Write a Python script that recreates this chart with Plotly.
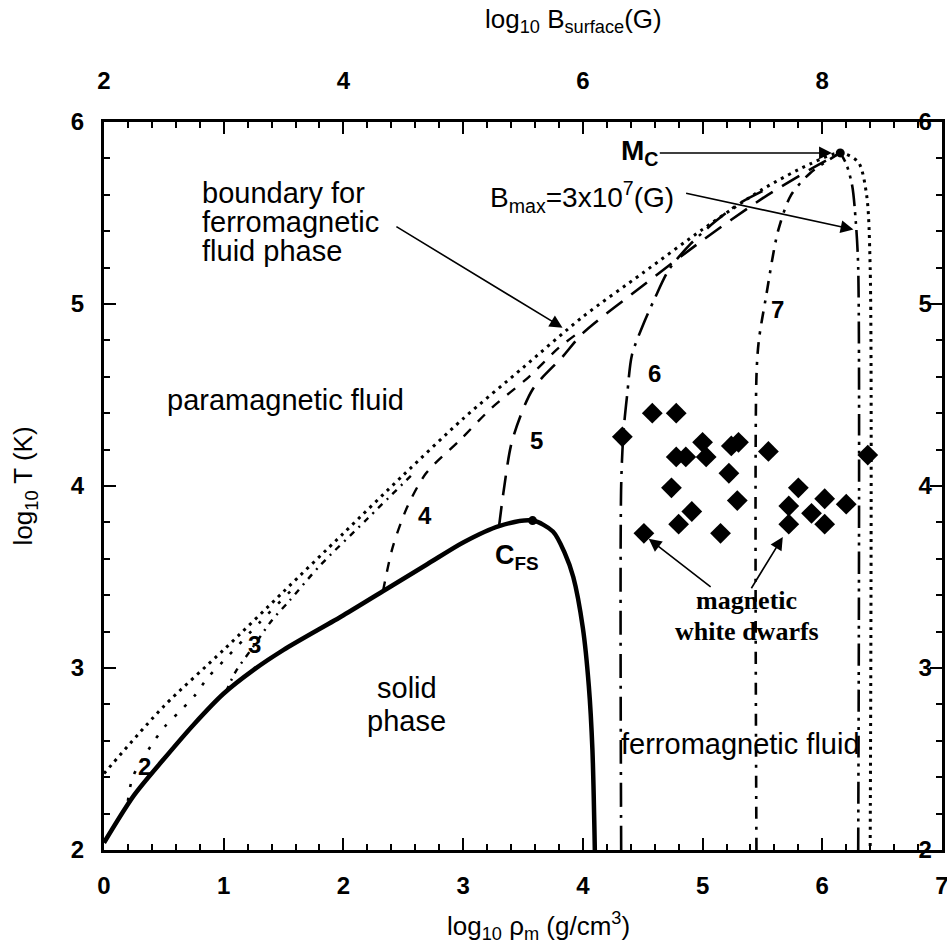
import plotly.graph_objects as go

# ---------------- data ----------------
# solid / fluid phase boundary (solid line)
solid_x = [0.0, 0.25, 0.5, 0.75, 1.0, 1.25, 1.5, 2.0, 2.35, 2.7, 3.0, 3.3, 3.58, 3.75, 3.85, 3.92, 4.0, 4.05, 4.08, 4.1]
solid_y = [2.04, 2.3, 2.5, 2.69, 2.86, 2.99, 3.1, 3.29, 3.43, 3.57, 3.69, 3.78, 3.81, 3.75, 3.63, 3.5, 3.22, 2.9, 2.55, 2.0]

# boundary for ferromagnetic fluid phase (dotted)
bound_x = [0.0, 0.5, 1.0, 1.5, 2.0, 2.5, 3.0, 3.5, 4.0, 4.5, 5.0, 5.5, 5.9, 6.15, 6.3, 6.37, 6.4, 6.4]
bound_y = [2.42, 2.79, 3.1, 3.42, 3.74, 4.06, 4.37, 4.65, 4.93, 5.17, 5.41, 5.63, 5.77, 5.83, 5.78, 5.6, 5.2, 2.0]

# constant-B curves, labelled by log10 B_surface
c2_x = [0.2, 0.24, 0.4, 0.51, 0.63, 0.76, 0.87, 1.0, 1.3, 1.6]
c2_y = [2.27, 2.40, 2.58, 2.68, 2.76, 2.85, 2.95, 3.04, 3.25, 3.45]

c3_x = [1.02, 1.1, 1.25, 1.4, 1.55, 1.8, 2.2, 2.6]
c3_y = [2.87, 2.98, 3.12, 3.26, 3.37, 3.56, 3.82, 4.08]

c4_x = [2.33, 2.41, 2.53, 2.69, 2.97, 3.24, 3.55, 3.8, 4.0]
c4_y = [3.42, 3.66, 3.88, 4.07, 4.25, 4.43, 4.6, 4.76, 4.86]

c5_x = [3.3, 3.34, 3.41, 3.58, 3.83, 4.0, 4.5, 5.0, 5.5, 5.9, 6.15]
c5_y = [3.78, 3.98, 4.25, 4.53, 4.71, 4.84, 5.1, 5.35, 5.58, 5.74, 5.83]

c6_x = [4.32, 4.32, 4.34, 4.37, 4.41, 4.5, 4.6, 4.72, 4.9, 5.1, 5.3, 5.5]
c6_y = [2.0, 4.0, 4.3, 4.5, 4.72, 4.88, 5.03, 5.19, 5.33, 5.45, 5.55, 5.62]

c7_x = [5.45, 5.45, 5.47, 5.53, 5.63, 5.74, 5.9, 6.05, 6.15]
c7_y = [2.0, 4.6, 4.8, 5.04, 5.4, 5.6, 5.72, 5.79, 5.83]

bmax_x = [6.3, 6.3, 6.28, 6.25, 6.2, 6.15]
bmax_y = [2.0, 5.2, 5.45, 5.65, 5.77, 5.83]

# magnetic white dwarfs (diamonds)
wd_x = [4.33, 4.58, 4.78, 4.78, 4.86, 5.0, 5.03, 5.24, 5.3, 5.55, 5.22, 4.74, 5.29,
        4.91, 4.8, 4.51, 5.15, 5.8, 5.72, 5.72, 5.91, 6.02, 6.02, 6.2, 6.38]
wd_y = [4.27, 4.40, 4.40, 4.16, 4.16, 4.24, 4.16, 4.22, 4.24, 4.19, 4.07, 3.99, 3.92,
        3.86, 3.79, 3.74, 3.74, 3.99, 3.89, 3.79, 3.85, 3.93, 3.79, 3.90, 4.17]

# special points
cfs_x, cfs_y = [3.58], [3.81]
mc_x, mc_y = [6.15], [5.83]

# axis ticks
x_ticks = [0, 1, 2, 3, 4, 5, 6, 7]
y_ticks = [2, 3, 4, 5, 6]
top_ticks = [2, 3, 4, 5, 6, 7, 8, 9]
top_labels = ["2", "", "4", "", "6", "", "8", ""]

FONT = "Liberation Sans, Arial, Helvetica, sans-serif"
SERIF = "Liberation Serif, Times New Roman, serif"

fig = go.Figure()

def line(x, y, dash, width=2.6, shape="spline"):
    fig.add_trace(go.Scatter(x=x, y=y, mode="lines", showlegend=False, hoverinfo="skip",
                             line=dict(color="black", width=width, dash=dash,
                                       shape=shape, smoothing=0.8)))

line(bound_x, bound_y, "3px,5px", 3)
line(c2_x, c2_y, "3px,11px", 2.6)
line(c3_x, c3_y, "6px,6px,2px,6px", 2.4)
line(c4_x, c4_y, "10px,10px", 2.4)
line(c5_x, c5_y, "20px,11px", 2.6)
line(c6_x, c6_y, "24px,8px,3px,8px", 2.6)
line(c7_x, c7_y, "12px,8px,3px,8px", 2.6)
line(bmax_x, bmax_y, "22px,6px,3px,6px,3px,6px", 2.6)
line(solid_x, solid_y, "solid", 4.5)

fig.add_trace(go.Scatter(x=wd_x, y=wd_y, mode="markers", showlegend=False, hoverinfo="skip",
                         marker=dict(symbol="diamond", size=16, color="black")))
fig.add_trace(go.Scatter(x=cfs_x + mc_x, y=cfs_y + mc_y, mode="markers", showlegend=False,
                         hoverinfo="skip", marker=dict(symbol="circle", size=9, color="black")))

# helper trace (draws nothing) so the top and right axes are rendered
fig.add_trace(go.Scatter(x=top_ticks[:1], y=y_ticks[:1], xaxis="x2", yaxis="y2", mode="none",
                         showlegend=False, hoverinfo="skip"))

# ---------------- annotations ----------------
def text(x, y, s, size=29, family=FONT, xanchor="center", weight="normal"):
    fig.add_annotation(x=x, y=y, xref="x", yref="y", text=s, showarrow=False,
                       xanchor=xanchor, yanchor="middle",
                       font=dict(family=family, size=size, color="black", weight=weight))

text(1.52, 4.47, "paramagnetic fluid")
text(0.8, 5.61, "boundary for", xanchor="left")
text(0.8, 5.45, "ferromagnetic", xanchor="left")
text(0.8, 5.29, "fluid phase", xanchor="left")
text(2.53, 2.89, "solid")
text(2.53, 2.71, "phase")
text(5.32, 2.58, "ferromagnetic fluid")
text(5.37, 3.37, "magnetic", size=26, family=SERIF, weight="bold")
text(5.37, 3.20, "white dwarfs", size=26, family=SERIF, weight="bold")
text(3.45, 3.61, "C<sub>FS</sub>", size=27, weight="bold")
text(4.47, 5.83, "M<sub>C</sub>", size=28, weight="bold")
text(3.99, 5.59, "B<sub>max</sub>=3x10<sup>7</sup>(G)", size=28)

for lx, ly, lab in [(0.34, 2.46, "2"), (1.26, 3.13, "3"), (2.68, 3.84, "4"),
                    (3.61, 4.25, "5"), (4.6, 4.62, "6"), (5.63, 4.97, "7")]:
    text(lx, ly, lab, size=24, weight="bold")

def arrow(x0, y0, x1, y1):
    fig.add_annotation(x=x1, y=y1, ax=x0, ay=y0, xref="x", yref="y", axref="x", ayref="y",
                       text="", showarrow=True, arrowhead=2, arrowsize=1.6, arrowwidth=1.6,
                       arrowcolor="black")

arrow(4.63, 5.83, 6.08, 5.83)
arrow(4.85, 5.61, 6.26, 5.41)
arrow(2.43, 5.43, 3.83, 4.87)
arrow(5.08, 3.44, 4.55, 3.71)
arrow(5.40, 3.43, 5.67, 3.72)

# axis titles
titlefont = dict(family=FONT, size=26, color="black")
fig.add_annotation(x=0.518, y=-0.104, xref="paper", yref="paper", showarrow=False,
                   text="log<sub>10</sub> ρ<sub>m</sub> (g/cm<sup>3</sup>)",
                   font=titlefont, yanchor="middle")
fig.add_annotation(x=-0.095, y=0.5, xref="paper", yref="paper", showarrow=False, textangle=-90,
                   text="log<sub>10</sub> T (K)", font=titlefont, xanchor="center")
fig.add_annotation(x=0.56, y=1.14, xref="paper", yref="paper", showarrow=False,
                   text="log<sub>10</sub> B<sub>surface</sub>(G)", font=titlefont, yanchor="middle")

tickfont = dict(family=FONT, size=24, color="black", weight="bold")
minor = dict(dtick=0.2, ticks="inside", ticklen=6, tickwidth=2, tickcolor="black")
common = dict(showgrid=False, zeroline=False, showline=True, linecolor="black", linewidth=3,
              ticks="inside", ticklen=12, tickwidth=2, tickcolor="black", tickfont=tickfont,
              ticklabeloverflow="allow", minor=minor, automargin=False)

fig.update_layout(
    width=947, height=943, margin=dict(l=104, r=5, t=122, b=93, autoexpand=False),
    paper_bgcolor="white", plot_bgcolor="white", showlegend=False,
    xaxis=dict(range=[0, 7], tickvals=x_ticks, ticklabelstandoff=12, **common),
    xaxis2=dict(range=[2, 9], overlaying="x", side="top", tickvals=top_ticks, ticktext=top_labels,
                ticklabelstandoff=20, **common),
    yaxis=dict(range=[2, 6], tickvals=y_ticks, ticklabelstandoff=12, **common),
    yaxis2=dict(range=[2, 6], overlaying="y", side="right", tickvals=y_ticks,
                ticklabelposition="inside", **common),
)

fig.write_html("out.html")
